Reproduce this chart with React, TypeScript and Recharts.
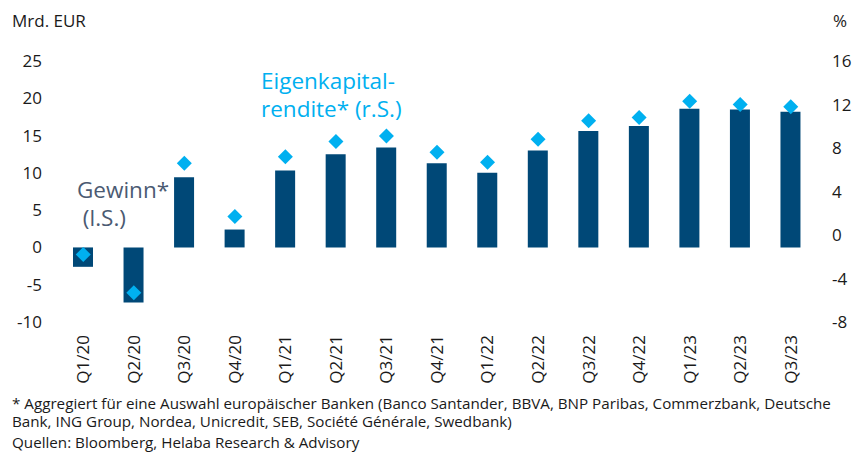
import React from "react";
import { ComposedChart, Bar, Line, XAxis, YAxis } from "recharts";

const quarters = ["Q1/20","Q2/20","Q3/20","Q4/20","Q1/21","Q2/21","Q3/21","Q4/21","Q1/22","Q2/22","Q3/22","Q4/22","Q1/23","Q2/23","Q3/23"];
const gewinn = [-2.6,-7.4,9.4,2.4,10.3,12.5,13.4,11.3,10.0,13.0,15.6,16.3,18.6,18.5,18.2];
const rendite = [-1.8,-5.3,6.6,1.7,7.2,8.6,9.1,7.6,6.7,8.8,10.5,10.8,12.3,12.0,11.8];
const leftTicks = [-10,-5,0,5,10,15,20,25];
const rightTicks = [-8,-4,0,4,8,12,16];

const data = quarters.map((q, i) => ({ q, gewinn: gewinn[i], rendite: rendite[i] }));

const FONT = "'Open Sans', 'Noto Sans', sans-serif";
const BAR = "#004877";
const CYAN = "#00b0f0";
const TXT = "#1a1a1a";

const Diamond = (props: any) => {
  const { cx, cy } = props;
  if (cx == null || cy == null) return null;
  const r = 7.5;
  return <polygon points={`${cx},${cy - r} ${cx + r},${cy} ${cx},${cy + r} ${cx - r},${cy}`} fill={CYAN} />;
};

const XTick = (props: any) => {
  const { x, y, payload } = props;
  return (
    <g transform={`translate(${x},${y})`}>
      <text transform="rotate(-90)" x={-13} y={0} dy="0.35em" textAnchor="end" fontSize={17} fill={TXT} fontFamily={FONT}>
        {payload.value}
      </text>
    </g>
  );
};

const note: React.CSSProperties = { position: "absolute", left: 12, fontSize: 15.2, color: TXT, lineHeight: "17px", whiteSpace: "nowrap" };

export default function App() {
  return (
    <div style={{ position: "absolute", left: 0, top: 0, width: 859, height: 452, background: "#fff", fontFamily: FONT, overflow: "hidden" }}>
      <ComposedChart width={859} height={452} data={data} margin={{ top: 61, right: 0, bottom: 0, left: 8 }}>
        <XAxis dataKey="q" axisLine={false} tickLine={false} tickSize={0} tickMargin={0} height={130} tick={<XTick />} interval={0} />
        <YAxis yAxisId="left" orientation="left" width={50} domain={[-10, 25]} ticks={leftTicks} axisLine={false} tickLine={false} tickSize={0} tickMargin={16} tick={{ fontSize: 17, fill: TXT, fontFamily: FONT }} interval={0} />
        <YAxis yAxisId="right" orientation="right" width={43} domain={[-8, 16]} ticks={rightTicks} axisLine={false} tickLine={false} tickSize={0} tickMargin={16} tick={{ fontSize: 17, fill: TXT, fontFamily: FONT, textAnchor: "start" }} interval={0} />
        <Bar yAxisId="left" dataKey="gewinn" fill={BAR} barSize={20} isAnimationActive={false} />
        <Line yAxisId="right" dataKey="rendite" stroke="none" strokeWidth={0} dot={<Diamond />} activeDot={false} isAnimationActive={false} />
      </ComposedChart>
      <div style={{ position: "absolute", left: 12, top: 9, fontSize: 17, color: TXT }}>Mrd. EUR</div>
      <div style={{ position: "absolute", left: 833, top: 9, fontSize: 17, color: TXT }}>%</div>
      <div style={{ position: "absolute", left: 261, top: 67, fontSize: 22.5, color: CYAN, lineHeight: "28px" }}>
        Eigenkapital-<br />rendite* (r.S.)
      </div>
      <div style={{ position: "absolute", left: 77, top: 176, fontSize: 22.5, color: "#4b5a72", lineHeight: "28px" }}>
        Gewinn*<br />&nbsp;(l.S.)
      </div>
      <div style={{ ...note, top: 395 }}>
        * Aggregiert für eine Auswahl europäischer Banken (Banco Santander, BBVA, BNP Paribas, Commerzbank, Deutsche
      </div>
      <div style={{ ...note, top: 413 }}>
        Bank, ING Group, Nordea, Unicredit, SEB, Société Générale, Swedbank)
      </div>
      <div style={{ ...note, top: 434 }}>
        Quellen: Bloomberg, Helaba Research &amp; Advisory
      </div>
    </div>
  );
}
